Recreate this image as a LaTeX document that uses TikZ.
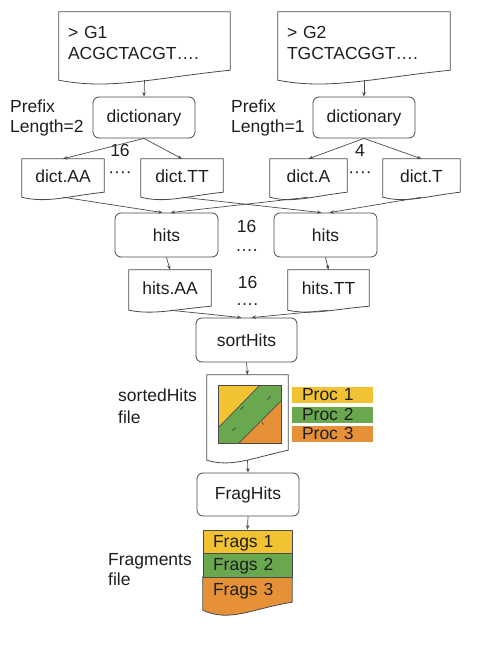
\documentclass[tikz,border=0pt]{standalone}
\usepackage{fontspec}
\setmainfont{Liberation Sans}
\usetikzlibrary{calc,arrows.meta,backgrounds}
\definecolor{ylw}{HTML}{F1C232}
\definecolor{grn}{HTML}{6AA84F}
\definecolor{org}{HTML}{E69138}
\definecolor{edge}{HTML}{4A4A4A}
\definecolor{txt}{HTML}{1E1E1E}
% #1 extra style, #2 node name, #3 extension below node, #4 rise of right end, #5 dip
\newcommand\docline[5][]{%
  \draw[docstyle,#1] ($(#2.south west)+(0,-#3)$) -- (#2.north west) -- (#2.north east)
    -- ($(#2.south east)+(0,-#3+#4)$)
    .. controls ($(#2.south east)!0.45!(#2.south west)+(0,-#3+0.2*#4)$)
       and ($(#2.south east)!0.7!(#2.south west)+(0,-#3-2.5*#5)$)
    .. ($(#2.south west)+(0,-#3)$) -- cycle;
  \coordinate (#2-b) at ($(#2.south)+(0,-#3)$);}
\begin{document}
\begin{tikzpicture}[x=1pt,y=1pt,
  font=\fontsize{17.5}{21}\selectfont, text=txt,
  sz/.style 2 args={minimum width=#1, minimum height=#2},
  box/.style={draw=edge, line width=0.8pt, rounded corners=6pt, inner sep=0pt},
  docnode/.style={inner sep=0pt},
  docstyle/.style={draw=edge, line width=0.8pt},
  arr/.style={draw=edge, line width=0.7pt, -{Stealth[length=4.5pt,width=3.5pt]}},
  lbl/.style={align=left, inner sep=0pt, anchor=west},
  band/.style={draw=edge, line width=0.8pt, inner ysep=0pt, inner xsep=10pt, align=left, text height=12.5pt, text depth=1pt},
  proc/.style={inner ysep=0pt, inner xsep=10pt, align=left, text width=61pt, text height=12.5pt, text depth=1pt, minimum height=16pt},
  dots/.style={inner sep=0pt}]
\useasboundingbox (0,0) rectangle (492,-650);

% genome files
\node[docnode, sz={171pt}{62pt}, align=left, text width=153pt] (g1) at (144.5,-43) {> G1\\ACGCTACGT….};
\node[docnode, sz={172pt}{62pt}, align=left, text width=154pt] (g2) at (364,-43) {> G2\\TGCTACGGT….};
\docline{g1}{6}{10}{4}
\docline{g2}{6}{10}{4}

% dictionary steps
\node[box, sz={102pt}{41pt}] (dict1) at (144,-117.5) {dictionary};
\node[box, sz={102pt}{41pt}] (dict2) at (364,-117.5) {dictionary};
\node[lbl, font=\fontsize{17.5}{20}\selectfont] (pfx1) at (10,-118) {Prefix\\Length=2};
\node[lbl, font=\fontsize{17.5}{20}\selectfont] (pfx2) at (231,-118) {Prefix\\Length=1};
\node[dots] (n16a) at (120,-150) {16};
\node[dots] (n4) at (360,-150) {4};

% dict files
\node[docnode, sz={82pt}{34pt}] (dAA) at (63,-176) {dict.AA};
\node[docnode, sz={82pt}{34pt}] (dTT) at (182,-176) {dict.TT};
\node[docnode, sz={77pt}{34pt}] (dA) at (308.5,-176) {dict.A};
\node[docnode, sz={77pt}{34pt}] (dT) at (421.5,-176) {dict.T};
\docline{dAA}{4}{5}{2.5}
\docline{dTT}{4}{5}{2.5}
\docline{dA}{4}{5}{2.5}
\docline{dT}{4}{5}{2.5}
\node[dots] (dots1) at (120,-175) {····};
\node[dots] (dots2) at (360,-175) {····};

% hits
\node[box, sz={103pt}{44pt}] (hitsL) at (166.5,-235) {hits};
\node[box, sz={103pt}{44pt}] (hitsR) at (325.5,-235) {hits};
\node[dots] (n16b) at (246.5,-226) {16};
\node[dots, anchor=base] (dotsb) at (246.5,-251) {….};

\node[docnode, sz={82pt}{36pt}] (hAA) at (170,-288) {hits.AA};
\node[docnode, sz={81pt}{36pt}] (hTT) at (328.5,-288) {hits.TT};
\docline{hAA}{4}{4}{2}
\docline{hTT}{4}{4}{2}
\node[dots] (n16c) at (247.5,-282) {16};
\node[dots, anchor=base] (dotsc) at (247,-305) {….};

% sortHits
\node[box, sz={101pt}{44pt}] (sortHits) at (246.5,-340) {sortHits};

% sortedHits file
\node[docnode, sz={81pt}{80pt}] (sh) at (247.5,-415) {};
\docline{sh}{5}{10}{3}
\node[lbl, font=\fontsize{17.5}{22}\selectfont] (shl) at (118,-406) {sortedHits\\file};
\fill[ylw] (218,-385) -- (260,-385) -- (218,-428) -- cycle;
\fill[grn] (260,-385) -- (281,-385) -- (281,-401) -- (239,-443) -- (218,-443) -- (218,-428) -- cycle;
\fill[org] (281,-401) -- (281,-443) -- (239,-443) -- cycle;
\draw[edge, line width=0.7pt] (260,-385) -- (218,-428) (281,-401) -- (239,-443);
\node[draw=edge, line width=0.9pt, sz={63pt}{58pt}, inner sep=0pt] (sq) at (249.5,-414) {};
\draw[edge, line width=0.8pt] (240.5,-409.5) -- (243.5,-406.5) (267.5,-399.5) -- (270.5,-396.5)
  (232.5,-430.5) -- (235.5,-427.5) (262,-422.5) -- (263.5,-424.5);

% process legend
\node[proc, fill=ylw] (p1) at (332.5,-395) {Proc 1};
\node[proc, fill=grn] (p2) at (332.5,-415) {Proc 2};
\node[proc, fill=org] (p3) at (332.5,-434) {Proc 3};

% FragHits
\node[box, sz={102pt}{43pt}] (fh) at (248,-494.5) {FragHits};

% Fragments file
\node[docnode, sz={89pt}{25pt}, align=left, text width=69pt, inner xsep=10pt, text height=12.5pt, text depth=1pt] (f3) at (247.5,-589.5) {Frags 3};
\begin{pgfonlayer}{background}
\docline[fill=org]{f3}{8}{8}{5}
\end{pgfonlayer}
\node[band, fill=ylw, sz={89pt}{23pt}, text width=69pt] (f1) at (247.5,-541.5) {Frags 1};
\node[band, fill=grn, sz={89pt}{24pt}, text width=69pt] (f2) at (247.5,-565) {Frags 2};
\node[lbl, font=\fontsize{17.5}{20}\selectfont] (fl) at (108,-570) {Fragments\\file};

% connectors
\draw[arr] (g1-b) -- (dict1.north);
\draw[arr] (g2-b) -- (dict2.north);
\draw[arr] (dict1.south) -- (dAA.north);
\draw[arr] (dict1.south) -- (dTT.north);
\draw[arr] (dict2.south) -- (dA.north);
\draw[arr] (dict2.south) -- (dT.north);
\draw[arr] (dAA-b) -- ([xshift=-4pt]hitsL.north);
\draw[arr] (dA-b) -- ([xshift=4pt]hitsL.north);
\draw[arr] (dTT-b) -- ([xshift=-4pt]hitsR.north);
\draw[arr] (dT-b) -- ([xshift=4pt]hitsR.north);
\draw[arr] (hitsL.south) -- (hAA.north);
\draw[arr] (hitsR.south) -- (hTT.north);
\draw[arr] (hAA-b) -- ([xshift=-5pt]sortHits.north);
\draw[arr] (hTT-b) -- ([xshift=5pt]sortHits.north);
\draw[arr] (sortHits.south) -- (sh.north);
\draw[arr] (sh-b) -- (fh.north);
\draw[arr] (fh.south) -- (f1.north);
\end{tikzpicture}
\end{document}
